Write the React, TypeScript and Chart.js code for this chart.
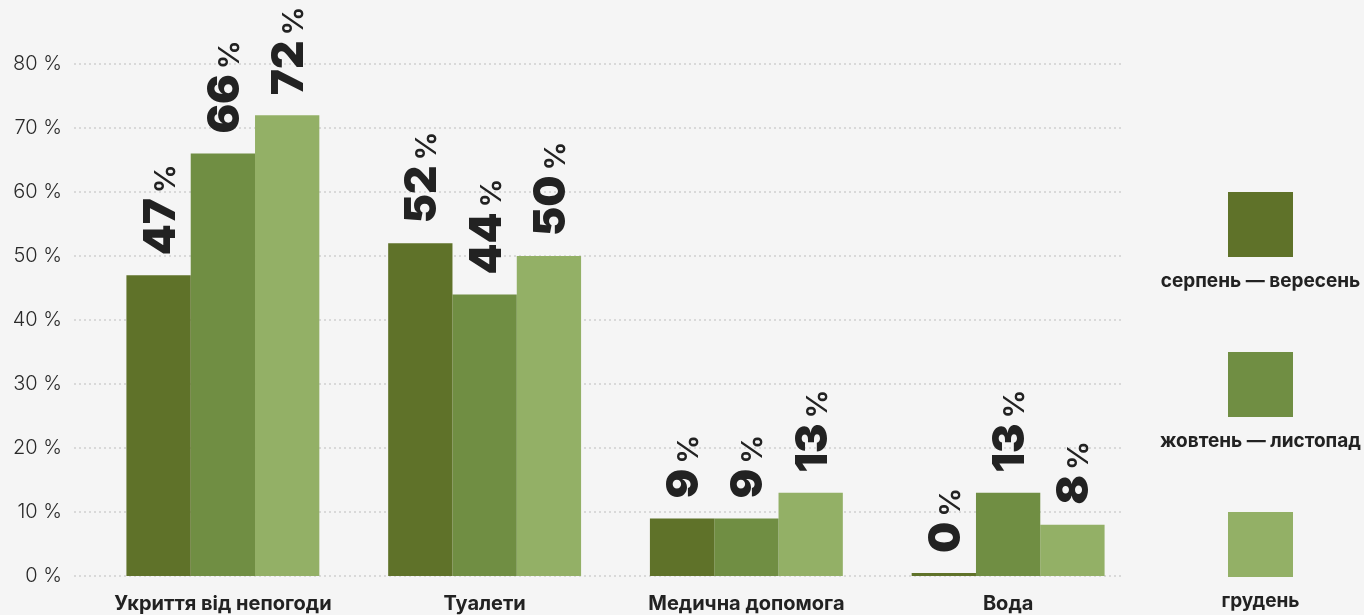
import React, { useEffect, useRef } from "react";
import { Chart, registerables } from "chart.js";

Chart.register(...registerables);

const categories = ["Укриття від непогоди", "Туалети", "Медична допомога", "Вода"];
const seriesLabels = ["серпень — вересень", "жовтень — листопад", "грудень"];
const augSep = [47, 52, 9, 0];
const octNov = [66, 44, 9, 13];
const decVals = [72, 50, 13, 8];
const seriesColors = ["#5f7229", "#708e43", "#93b066"];
const yTickValues = [0, 10, 20, 30, 40, 50, 60, 70, 80];

const FONT = "Inter, 'Noto Sans', 'DejaVu Sans', sans-serif";
const BG = "#f5f5f5";
const TEXT = "#222222";

const gridPlugin = {
  id: "dottedGrid",
  beforeDatasetsDraw(chart: any) {
    const { ctx, chartArea, scales } = chart;
    const y = scales.y;
    ctx.save();
    ctx.strokeStyle = "#d9d9d9";
    ctx.lineWidth = 2;
    ctx.setLineDash([2, 3]);
    for (const v of yTickValues) {
      const py = Math.round(y.getPixelForValue(v));
      ctx.beginPath();
      ctx.moveTo(chartArea.left - 18, py);
      ctx.lineTo(chartArea.right - 17, py);
      ctx.stroke();
    }
    ctx.restore();
  },
};

const labelPlugin = {
  id: "rotLabels",
  afterDatasetsDraw(chart: any) {
    const { ctx } = chart;
    chart.data.datasets.forEach((ds: any, i: number) => {
      const meta = chart.getDatasetMeta(i);
      meta.data.forEach((bar: any, j: number) => {
        const val = ds.data[j];
        const numSize = 44;
        const capH = numSize * 0.727;
        ctx.save();
        ctx.translate(bar.x, bar.y - 20);
        ctx.rotate(-Math.PI / 2);
        ctx.fillStyle = TEXT;
        ctx.textAlign = "left";
        ctx.textBaseline = "alphabetic";
        ctx.font = `900 ${numSize}px ${FONT}`;
        const s = String(val);
        ctx.fillText(s, 0, capH / 2);
        const w = ctx.measureText(s).width;
        ctx.font = `600 29px ${FONT}`;
        ctx.fillText("%", w + 5, capH / 2);
        ctx.restore();
      });
    });
  },
};

const legendPlugin = {
  id: "sideLegend",
  afterDraw(chart: any) {
    const { ctx } = chart;
    ctx.save();
    chart.data.datasets.forEach((ds: any, i: number) => {
      const top = 192 + 160 * i;
      ctx.fillStyle = ds.backgroundColor;
      ctx.fillRect(1228, top, 65, 65);
      ctx.fillStyle = TEXT;
      ctx.font = `700 19px ${FONT}`;
      ctx.textAlign = "center";
      ctx.textBaseline = "middle";
      ctx.fillText(ds.label, 1260.5, top + 89);
    });
    ctx.restore();
  },
};

export default function App() {
  const ref = useRef<HTMLCanvasElement | null>(null);
  useEffect(() => {
    document.body.style.margin = "0";
    document.body.style.background = BG;
    if (!ref.current) return;
    const seriesData = [augSep, octNov, decVals];
    const chart = new Chart(ref.current, {
      type: "bar",
      data: {
        labels: categories,
        datasets: seriesLabels.map((label, i) => ({
          label,
          data: seriesData[i],
          backgroundColor: seriesColors[i],
          borderWidth: 0,
          barPercentage: 1,
          categoryPercentage: 0.737,
          minBarLength: 3,
        })),
      },
      options: {
        animation: false,
        responsive: false,
        maintainAspectRatio: false,
        layout: { padding: { top: 64, right: 225, bottom: 0, left: 0 } },
        plugins: {
          legend: { display: false },
          tooltip: { enabled: false },
        },
        scales: {
          x: {
            grid: { display: false, drawTicks: false },
            border: { display: false },
            ticks: {
              color: TEXT,
              padding: 16,
              font: { family: FONT, size: 20, weight: "bold" },
              maxRotation: 0,
              autoSkip: false,
            },
            afterFit(s: any) {
              s.height = 39;
            },
          },
          y: {
            min: 0,
            max: 80,
            grid: { display: false, drawTicks: false },
            border: { display: false },
            ticks: {
              stepSize: 10,
              color: "#2a2a2a",
              padding: 30,
              font: { family: FONT, size: 20, weight: "300" },
              callback: (v: any) => `${v} %`,
            },
            afterFit(s: any) {
              s.width = 92;
              s.paddingTop = 0;
              s.paddingBottom = 0;
            },
          },
        },
      },
      plugins: [gridPlugin, labelPlugin, legendPlugin],
    });
    return () => chart.destroy();
  }, []);
  return (
    <div style={{ width: 1364, height: 615, background: BG, position: "relative" }}>
      <canvas ref={ref} width={1364} height={615} style={{ display: "block" }} />
    </div>
  );
}
